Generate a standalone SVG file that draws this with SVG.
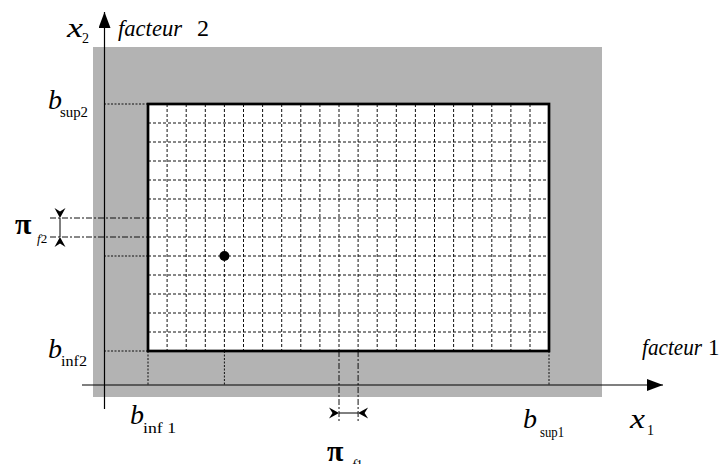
<svg xmlns="http://www.w3.org/2000/svg" width="723" height="464" viewBox="0 0 723 464">
<style>
.t{font-family:'Liberation Serif','Times New Roman','DejaVu Serif',serif;fill:#000}
.i{font-style:italic}
.grid{stroke:#111;stroke-width:1;stroke-dasharray:3 2;fill:none}
.ext{stroke:#111;stroke-width:1;stroke-dasharray:2 1.5;fill:none}
.dd{stroke:#111;stroke-width:1;stroke-dasharray:6 2 2 2;fill:none}
.ax{stroke:#000;stroke-width:1.2;fill:none}
</style>
<defs>
<marker id="ah" viewBox="0 0 16 12" refX="16" refY="6" markerWidth="16" markerHeight="12" markerUnits="userSpaceOnUse" orient="auto">
<path d="M0,0 L16,6 L0,12 Z" fill="#000"/>
</marker>
</defs>
<g id="domain">
<rect x="93" y="47" width="509" height="350" fill="#b3b3b3"/>
<rect x="148" y="104" width="401" height="247" fill="#fff"/>
</g>
<g id="grid">
<path class="grid" d="M167.1,104V351M186.2,104V351M205.3,104V351M224.4,104V351M243.5,104V351M262.6,104V351M281.7,104V351M300.8,104V351M319.9,104V351M339,104V351M358.1,104V351M377.2,104V351M396.3,104V351M415.4,104V351M434.5,104V351M453.6,104V351M472.7,104V351M491.8,104V351M510.9,104V351M530,104V351"/>
<path class="grid" d="M148,123H549M148,142H549M148,161H549M148,180H549M148,199H549M148,218H549M148,237H549M148,256H549M148,275H549M148,294H549M148,313H549M148,332H549"/>
</g>
<g id="connectors">
<path class="ext" d="M104,104H148M104,256H148M104,351H148M148,351V385M224.4,351V385M549,351V385"/>
<path class="dd" d="M50,218H148M50,237H148M339,351V423M358.1,351V423"/>
<line class="ax" x1="104.5" y1="409" x2="104.5" y2="12" marker-end="url(#ah)"/>
<line class="ax" x1="82" y1="385" x2="663" y2="385" marker-end="url(#ah)"/>
<path d="M60,218V237M339,413H358.1" stroke="#000" stroke-width="1"/>
<path d="M60,218L54.5,208L60,211.5L65.5,208Z M60,237L54.5,247L60,243.5L65.5,247Z" fill="#000"/>
<path d="M339,413L329,407.5L332.5,413L329,418.5Z M358.1,413L368.1,407.5L364.6,413L368.1,418.5Z" fill="#000"/>
</g>
<g id="domain-border">
<rect x="148" y="104" width="401" height="247" fill="none" stroke="#000" stroke-width="2.7"/>
</g>
<g id="point">
<circle cx="224.4" cy="256" r="5" fill="#000"/>
</g>
<g id="labels">
<text class="t i" x="67" y="37" font-size="27" textLength="16" lengthAdjust="spacingAndGlyphs">x</text>
<text class="t" x="82" y="43" font-size="14">2</text>
<text class="t i" x="118" y="36" font-size="24" textLength="64" lengthAdjust="spacingAndGlyphs">facteur</text>
<text class="t" x="197" y="36" font-size="24">2</text>
<text class="t i" x="48" y="109" font-size="28">b</text>
<text class="t" x="60" y="117" font-size="15" textLength="28" lengthAdjust="spacingAndGlyphs">sup2</text>
<text class="t" x="15" y="234" font-size="30" font-weight="bold">π</text>
<text class="t" x="37" y="243" font-size="13"><tspan class="i">f</tspan>2</text>
<text class="t i" x="48" y="358" font-size="28">b</text>
<text class="t" x="61" y="366" font-size="15" textLength="26" lengthAdjust="spacingAndGlyphs">inf2</text>
<text class="t i" x="130" y="424" font-size="28">b</text>
<text class="t" x="143" y="433" font-size="15" textLength="33" lengthAdjust="spacingAndGlyphs">inf 1</text>
<text class="t" x="327" y="461" font-size="30" font-weight="bold">π</text>
<text class="t" x="352" y="470" font-size="14"><tspan class="i">f</tspan>1</text>
<text class="t i" x="523" y="428" font-size="28">b</text>
<text class="t" x="540" y="437" font-size="15" textLength="24" lengthAdjust="spacingAndGlyphs">sup1</text>
<text class="t i" x="630" y="428" font-size="27" textLength="15" lengthAdjust="spacingAndGlyphs">x</text>
<text class="t" x="647" y="435" font-size="14">1</text>
<text class="t i" x="642" y="355" font-size="23" textLength="60" lengthAdjust="spacingAndGlyphs">facteur</text>
<text class="t" x="708" y="355" font-size="23">1</text>
</g>
</svg>
